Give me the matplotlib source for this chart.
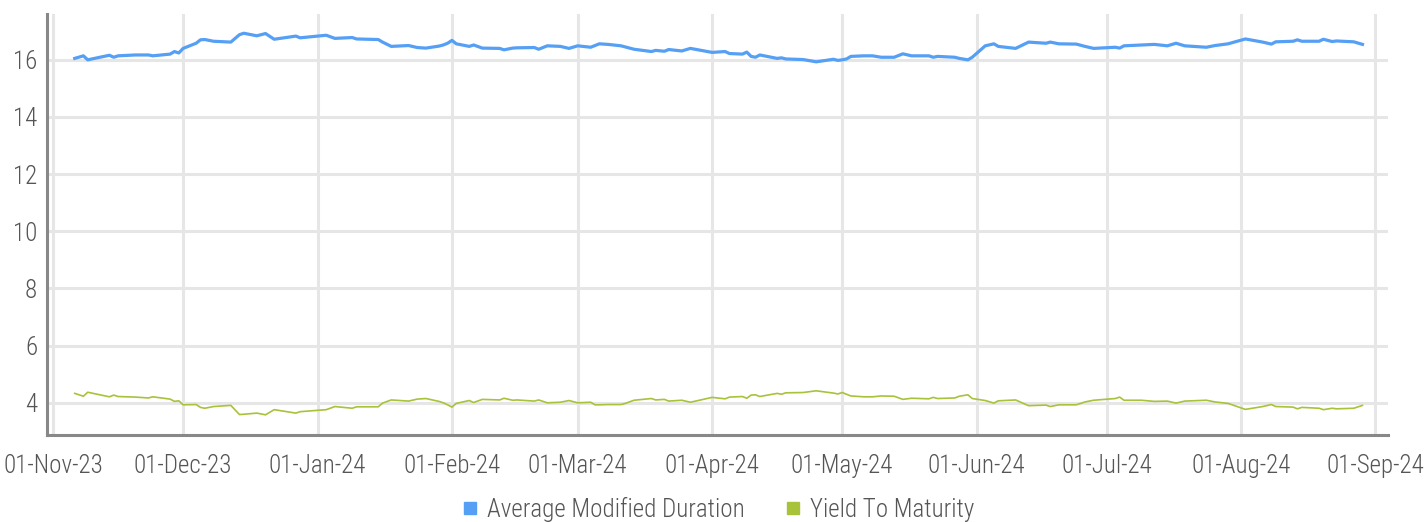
import matplotlib

matplotlib.use("Agg")
import matplotlib.dates as mdates
import matplotlib.pyplot as plt
import pandas as pd
from matplotlib import font_manager
from matplotlib.lines import Line2D

dates = [
    "2023-11-06", "2023-11-08", "2023-11-09", "2023-11-14", "2023-11-15", "2023-11-16",
    "2023-11-20", "2023-11-23", "2023-11-24", "2023-11-28", "2023-11-29", "2023-11-30",
    "2023-12-01", "2023-12-04", "2023-12-05", "2023-12-06", "2023-12-08", "2023-12-12",
    "2023-12-14", "2023-12-15", "2023-12-18", "2023-12-20", "2023-12-22", "2023-12-27",
    "2023-12-28", "2024-01-03", "2024-01-05", "2024-01-09", "2024-01-10", "2024-01-15",
    "2024-01-16", "2024-01-18", "2024-01-22", "2024-01-24", "2024-01-26", "2024-01-29",
    "2024-01-30", "2024-01-31", "2024-02-01", "2024-02-02", "2024-02-05", "2024-02-06",
    "2024-02-08", "2024-02-12", "2024-02-13", "2024-02-15", "2024-02-16", "2024-02-20",
    "2024-02-21", "2024-02-23", "2024-02-26", "2024-02-28", "2024-03-01", "2024-03-04",
    "2024-03-05", "2024-03-06", "2024-03-08", "2024-03-11", "2024-03-12", "2024-03-14",
    "2024-03-18", "2024-03-19", "2024-03-21", "2024-03-22", "2024-03-25", "2024-03-27",
    "2024-04-01", "2024-04-04", "2024-04-05", "2024-04-08", "2024-04-09", "2024-04-10",
    "2024-04-11", "2024-04-12", "2024-04-16", "2024-04-17", "2024-04-18", "2024-04-22",
    "2024-04-25", "2024-04-29", "2024-04-30", "2024-05-01", "2024-05-02", "2024-05-03",
    "2024-05-06", "2024-05-08", "2024-05-10", "2024-05-13", "2024-05-15", "2024-05-17",
    "2024-05-21", "2024-05-22", "2024-05-23", "2024-05-27", "2024-05-28", "2024-05-30",
    "2024-05-31", "2024-06-03", "2024-06-05", "2024-06-06", "2024-06-10", "2024-06-13",
    "2024-06-17", "2024-06-18", "2024-06-20", "2024-06-24", "2024-06-26", "2024-06-28",
    "2024-07-03", "2024-07-04", "2024-07-05", "2024-07-09", "2024-07-12", "2024-07-15",
    "2024-07-17", "2024-07-19", "2024-07-24", "2024-07-26", "2024-07-29", "2024-08-02",
    "2024-08-06", "2024-08-08", "2024-08-09", "2024-08-13", "2024-08-14", "2024-08-15",
    "2024-08-19", "2024-08-20", "2024-08-22", "2024-08-23", "2024-08-27", "2024-08-29",
]

modified_duration = [
    16.05, 16.14, 16.00, 16.16, 16.09, 16.14,
    16.17, 16.17, 16.14, 16.20, 16.29, 16.24,
    16.40, 16.58, 16.70, 16.71, 16.65, 16.62,
    16.88, 16.93, 16.84, 16.92, 16.72, 16.83,
    16.77, 16.86, 16.75, 16.78, 16.73, 16.71,
    16.62, 16.47, 16.50, 16.43, 16.41, 16.48,
    16.52, 16.58, 16.68, 16.56, 16.47, 16.52,
    16.41, 16.40, 16.35, 16.41, 16.42, 16.43,
    16.37, 16.49, 16.47, 16.40, 16.49, 16.44,
    16.50, 16.56, 16.54, 16.49, 16.45, 16.37,
    16.29, 16.33, 16.30, 16.36, 16.31, 16.40,
    16.26, 16.29, 16.22, 16.20, 16.27, 16.12,
    16.09, 16.17, 16.05, 16.07, 16.03, 16.01,
    15.93, 16.02, 15.98, 16.00, 16.03, 16.12,
    16.14, 16.14, 16.09, 16.09, 16.21, 16.14,
    16.14, 16.09, 16.12, 16.09, 16.05, 16.00,
    16.09, 16.49, 16.56, 16.47, 16.40, 16.62,
    16.58, 16.62, 16.56, 16.55, 16.47, 16.40,
    16.44, 16.41, 16.49, 16.52, 16.54, 16.49,
    16.58, 16.49, 16.44, 16.50, 16.56, 16.73,
    16.62, 16.55, 16.63, 16.65, 16.70, 16.65,
    16.65, 16.72, 16.64, 16.66, 16.63, 16.54,
]

yield_to_maturity = [
    4.33, 4.23, 4.37, 4.21, 4.27, 4.22,
    4.20, 4.17, 4.21, 4.13, 4.05, 4.07,
    3.93, 3.94, 3.84, 3.81, 3.87, 3.91,
    3.59, 3.60, 3.64, 3.58, 3.76, 3.64,
    3.69, 3.76, 3.87, 3.81, 3.86, 3.86,
    3.99, 4.10, 4.06, 4.13, 4.15, 4.05,
    4.00, 3.93, 3.85, 3.98, 4.08, 4.01,
    4.12, 4.10, 4.16, 4.09, 4.10, 4.06,
    4.10, 4.00, 4.02, 4.08, 4.00, 4.02,
    3.93, 3.93, 3.94, 3.94, 3.98, 4.09,
    4.15, 4.10, 4.12, 4.06, 4.09, 4.02,
    4.19, 4.14, 4.20, 4.22, 4.16, 4.27,
    4.28, 4.22, 4.33, 4.30, 4.35, 4.36,
    4.42, 4.34, 4.31, 4.36, 4.30, 4.24,
    4.21, 4.21, 4.24, 4.23, 4.12, 4.16,
    4.14, 4.19, 4.15, 4.17, 4.23, 4.28,
    4.15, 4.08, 3.99, 4.07, 4.10, 3.90,
    3.92, 3.87, 3.93, 3.93, 4.03, 4.09,
    4.15, 4.20, 4.09, 4.09, 4.05, 4.06,
    3.99, 4.06, 4.09, 4.03, 3.98, 3.77,
    3.87, 3.94, 3.87, 3.85, 3.79, 3.84,
    3.81, 3.76, 3.81, 3.79, 3.81, 3.91,
]

series_labels = ["Average Modified Duration", "Yield To Maturity"]
y_ticks = [4, 6, 8, 10, 12, 14, 16]

BLUE = "#559ff5"
GREEN = "#a8c23a"
GRID = "#e6e6e6"
TEXT = "#555555"


def _pick_font() -> tuple[str, str, float]:
    # prefer a narrow face if one is installed, the reference uses a condensed DIN-like font
    names = {f.name for f in font_manager.fontManager.ttflist}
    for name in ("Roboto Condensed", "Liberation Sans Narrow", "DejaVu Sans Condensed"):
        if name in names:
            return name, "light", 18
    return "Roboto", "light", 16


font_name, font_weight, font_size = _pick_font()
plt.rcParams["font.family"] = [font_name, "DejaVu Sans"]
plt.rcParams["font.weight"] = font_weight

x = pd.to_datetime(dates)

fig = plt.figure(figsize=(14.27, 5.22), dpi=100)
ax = fig.add_axes([0.033, 0.167, 0.94, 0.806])

ax.plot(x, modified_duration, color=BLUE, linewidth=2.3, solid_joinstyle="round")
ax.plot(x, yield_to_maturity, color=GREEN, linewidth=1.2)

ax.set_xlim(pd.Timestamp("2023-10-30 15:00"), pd.Timestamp("2024-09-04"))
ax.set_ylim(2.88, 17.6)
ax.set_yticks(y_ticks)
ax.xaxis.set_major_locator(mdates.MonthLocator())
ax.xaxis.set_major_formatter(mdates.DateFormatter("%d-%b-%y"))

ax.grid(True, color=GRID, linewidth=2.2)
ax.set_axisbelow(True)
ax.tick_params(length=0, labelsize=font_size, labelcolor=TEXT, pad=7)
ax.tick_params(axis="x", pad=14)

for side in ("top", "right"):
    ax.spines[side].set_visible(False)
for side in ("left", "bottom"):
    ax.spines[side].set_color("#888888")
    ax.spines[side].set_linewidth(2.2)

handles = [
    Line2D([], [], linestyle="none", marker="s", markersize=8, color=BLUE),
    Line2D([], [], linestyle="none", marker="s", markersize=8, color=GREEN),
]
legend = fig.legend(
    handles,
    series_labels,
    loc="lower center",
    bbox_to_anchor=(0.5, -0.043),
    ncol=2,
    frameon=False,
    fontsize=font_size,
    handletextpad=0.0,
    handlelength=1.4,
    columnspacing=1.2,
)
for text in legend.get_texts():
    text.set_color(TEXT)

fig.savefig("out.png", dpi=100)
